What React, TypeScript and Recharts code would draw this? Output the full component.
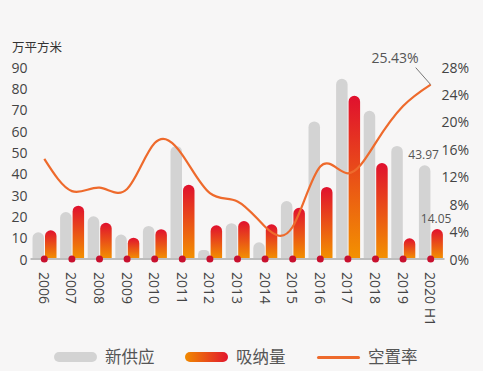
import React from "react";
import {
  ComposedChart,
  Bar,
  Line,
  XAxis,
  YAxis,
  LabelList,
} from "recharts";

const categories = [
  "2006", "2007", "2008", "2009", "2010", "2011", "2012", "2013",
  "2014", "2015", "2016", "2017", "2018", "2019", "2020 H1",
];
// 新供应 (万平方米)
const supply = [12.5, 22, 20, 11.5, 15.5, 53, 4.2, 16.8, 7.8, 27.2, 64.5, 84.5, 69.5, 53, 43.97];
// 吸纳量 (万平方米)
const absorption = [13.5, 25, 17, 10, 14, 34.8, 15.8, 17.8, 16.3, 24, 33.8, 76.5, 45, 9.7, 14.05];
// 空置率 (%)
const vacancy = [14.6, 9.9, 10.4, 10.2, 16.9, 15.2, 9.6, 8.4, 4.7, 4.7, 13.5, 12.5, 16.9, 22.3, 25.43];

const leftTicks = [0, 10, 20, 30, 40, 50, 60, 70, 80, 90];
const rightTicks = [0, 4, 8, 12, 16, 20, 24, 28];

const legendItems = [
  { name: "新供应", kind: "gray" },
  { name: "吸纳量", kind: "grad" },
  { name: "空置率", kind: "line" },
];
const legendLeft = [54, 185, 317];

const data = categories.map((c, i) => ({
  name: c,
  supply: supply[i],
  absorption: absorption[i],
  vacancy: vacancy[i],
}));

const FONT = "'Open Sans', 'Noto Sans CJK SC', sans-serif";
const LAST = categories.length - 1;

const XTick = (props: any) => {
  const { x, y, payload } = props;
  return (
    <g>
      <circle cx={x} cy={y} r={3.5} fill="#c8102e" />
      <text
        transform={`translate(${x}, ${y + 13}) rotate(90)`}
        textAnchor="start"
        dominantBaseline="central"
        fontSize={14}
        fill="#444"
        fontFamily={FONT}
      >
        {payload.value}
      </text>
    </g>
  );
};

const LeftTick = (props: any) => {
  const { x, y, payload } = props;
  return (
    <text x={x - 3} y={y} textAnchor="end" dominantBaseline="central" fontSize={14} fill="#444" fontFamily={FONT}>
      {payload.value}
    </text>
  );
};

const RightTick = (props: any) => {
  const { x, y, payload } = props;
  return (
    <text x={x + 24.5} y={y} textAnchor="end" dominantBaseline="central" fontSize={14} fill="#444" fontFamily={FONT}>
      {payload.value}%
    </text>
  );
};

const lastBarLabel = (props: any) => {
  const { x, y, width, value, index } = props;
  if (index !== LAST) return null;
  return (
    <text x={x + width / 2 - 1} y={y - 6} textAnchor="middle" fontSize={12} fill="#555" fontFamily={FONT}>
      {value}
    </text>
  );
};

const lastLineLabel = (props: any) => {
  const { x, y, value, index } = props;
  if (index !== LAST) return null;
  return (
    <g>
      <line x1={x} y1={y} x2={x - 15} y2={y - 17} stroke="#777" strokeWidth={1} />
      <text x={x - 12} y={y - 22} textAnchor="end" fontSize={14} fill="#555" fontFamily={FONT}>
        {value}%
      </text>
    </g>
  );
};

export default function App() {
  return (
    <div
      style={{
        position: "absolute",
        left: 0,
        top: 0,
        width: 483,
        height: 371,
        background: "#f7f6f6",
        fontFamily: FONT,
      }}
    >
      <div style={{ position: "absolute", left: 12, top: 37, fontSize: 12.5, color: "#333" }}>万平方米</div>
      <ComposedChart
        width={483}
        height={371}
        data={data}
        margin={{ top: 67, right: 0, bottom: 52, left: 0 }}
        barSize={11.5}
        barGap={1}
      >
        <defs>
          <linearGradient id="absGrad" x1="0" y1="0" x2="0" y2="1">
            <stop offset="0%" stopColor="#e0102e" />
            <stop offset="100%" stopColor="#f39200" />
          </linearGradient>
        </defs>
        <XAxis
          dataKey="name"
          height={60}
          interval={0}
          tickLine={false}
          tickSize={0}
          tickMargin={0}
          axisLine={{ stroke: "#bdbdbd", strokeWidth: 2 }}
          tick={<XTick />}
        />
        <YAxis
          yAxisId="left"
          width={30.5}
          domain={[0, 90]}
          ticks={leftTicks}
          axisLine={false}
          tickLine={false}
          tickSize={0}
          tickMargin={0}
          tick={<LeftTick />}
          interval={0}
        />
        <YAxis
          yAxisId="right"
          orientation="right"
          width={38.5}
          domain={[0, 28]}
          ticks={rightTicks}
          axisLine={false}
          tickLine={false}
          tickSize={0}
          tickMargin={0}
          tick={<RightTick />}
          interval={0}
        />
        <Bar yAxisId="left" dataKey="supply" fill="#d3d3d3" radius={[6, 6, 0, 0]} isAnimationActive={false}>
          <LabelList dataKey="supply" content={lastBarLabel} />
        </Bar>
        <Bar yAxisId="left" dataKey="absorption" fill="url(#absGrad)" radius={[6, 6, 0, 0]} isAnimationActive={false}>
          <LabelList dataKey="absorption" content={lastBarLabel} />
        </Bar>
        <Line
          yAxisId="right"
          type="natural"
          dataKey="vacancy"
          stroke="#ee6a2c"
          strokeWidth={2.2}
          dot={false}
          isAnimationActive={false}
        >
          <LabelList dataKey="vacancy" content={lastLineLabel} />
        </Line>
      </ComposedChart>
      {legendItems.map((it, i) => (
        <div
          key={it.name}
          style={{
            position: "absolute",
            left: legendLeft[i],
            top: 346,
            display: "flex",
            alignItems: "center",
            fontSize: 16.5,
            color: "#555",
          }}
        >
          {it.kind === "line" ? (
            <div style={{ width: 43, height: 3, background: "#ee6a2c", borderRadius: 2 }} />
          ) : (
            <div
              style={{
                width: 43,
                height: 10,
                borderRadius: 5,
                background: it.kind === "gray" ? "#d3d3d3" : "linear-gradient(to right, #f08a00, #e2162d)",
              }}
            />
          )}
          <span style={{ marginLeft: 8, lineHeight: "22px" }}>{it.name}</span>
        </div>
      ))}
    </div>
  );
}
